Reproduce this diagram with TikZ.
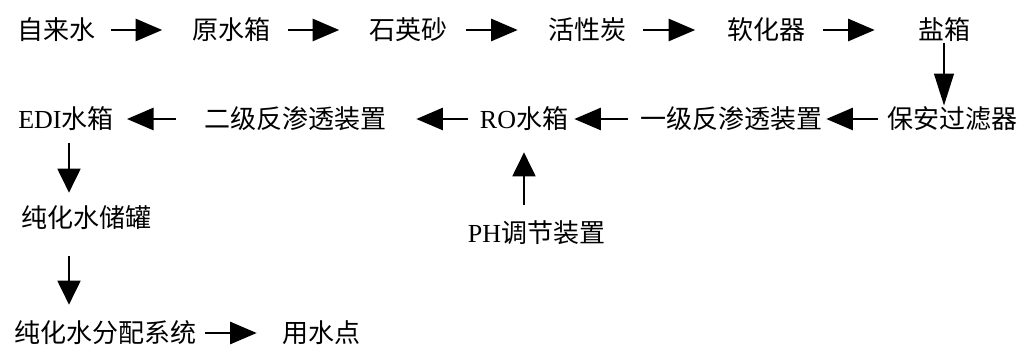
\documentclass[tikz,border=0pt]{standalone}
\usepackage{fontspec}
\setmainfont{Liberation Serif}
\newfontfamily\cjk{Noto Sans CJK SC}
\usetikzlibrary{arrows.meta}
\begin{document}
\begin{tikzpicture}[x=0.75pt,y=-0.75pt,
  lbl/.style={inner sep=0pt,minimum height=19.5pt,font=\fontsize{19.5pt}{22pt}\selectfont\cjk},
  arr/.style={line width=2.2pt,-{Triangle[length=20pt,width=16.5pt]}},
  varr/.style={line width=2.2pt,-{Triangle[length=18pt,width=17pt]}}]
\useasboundingbox (0,0) rectangle (1021,345);
% row 1
\node[lbl,minimum width=57.75pt] (n1) at (56.5,30) {自来水};
\node[lbl,minimum width=57.75pt] (n2) at (231.5,30) {原水箱};
\node[lbl,minimum width=57.75pt] (n3) at (408.5,30) {石英砂};
\node[lbl,minimum width=58.5pt] (n4) at (587,30) {活性炭};
\node[lbl,minimum width=57.75pt] (n5) at (766.5,30) {软化器};
\node[lbl,minimum width=39pt] (n6) at (944,30) {盐箱};
% row 2
\node[lbl,minimum width=101.25pt] (m1) at (952.5,119) {保安过滤器};
\node[lbl,minimum width=140.25pt] (m2) at (731.5,119) {一级反渗透装置};
\node[lbl,minimum width=69pt] (m3) at (524,119) {{\rmfamily RO}水箱};
\node[lbl,minimum width=140.25pt] (m4) at (295.5,119) {二级反渗透装置};
\node[lbl,minimum width=66pt] (m5) at (66,119) {{\rmfamily EDI}水箱};
% lower
\node[lbl,minimum width=99.75pt] (p1) at (86.5,218) {纯化水储罐};
\node[lbl,minimum width=141.75pt] (q1) at (105.5,333) {纯化水分配系统};
\node[lbl,minimum width=58.5pt] (q2) at (321,333) {用水点};
\node[lbl,minimum width=99.75pt] (r1) at (536.5,233) {{\rmfamily PH}调节装置};
\coordinate (ax) at (69,0);
% arrows row 1
\draw[arr,shorten <=11.25pt,shorten >=22.5pt] (n1.east) -- (n2.west);
\draw[arr,shorten <=12.75pt,shorten >=22.5pt] (n2.east) -- (n3.west);
\draw[arr,shorten <=13.5pt,shorten >=22.5pt] (n3.east) -- (n4.west);
\draw[arr,shorten <=12.75pt,shorten >=24pt] (n4.east) -- (n5.west);
\draw[arr,shorten <=12.75pt,shorten >=32.25pt] (n5.east) -- (n6.west);
% down to row 2
\draw[line width=2.2pt,-{Triangle[length=24pt,width=14.5pt]}] (n6.south) -- (n6.south |- m1.north);
% arrows row 2
\draw[arr,shorten <=5.25pt,shorten >=0.75pt] (m1.west) -- (m2.east);
\draw[arr,shorten <=7.5pt,shorten >=3pt] (m2.west) -- (m3.east);
\draw[arr,shorten <=7.5pt,shorten >=20.25pt] (m3.west) -- (m4.east);
\draw[arr,shorten <=19.5pt,shorten >=9.75pt] (m4.west) -- (m5.east);
% PH up
\draw[varr,shorten <=11.25pt,shorten >=15pt] (r1.north -| m3.south) -- (m3.south);
% down arrows
\draw[varr,shorten <=8.25pt,shorten >=9pt] (m5.south -| ax) -- (p1.north -| ax);
\draw[varr,shorten <=18.4pt,shorten >=11.25pt] (p1.south -| ax) -- (q1.north -| ax);
% bottom
\draw[arr,shorten <=3.75pt,shorten >=18.75pt] (q1.east) -- (q2.west);
\end{tikzpicture}
\end{document}
